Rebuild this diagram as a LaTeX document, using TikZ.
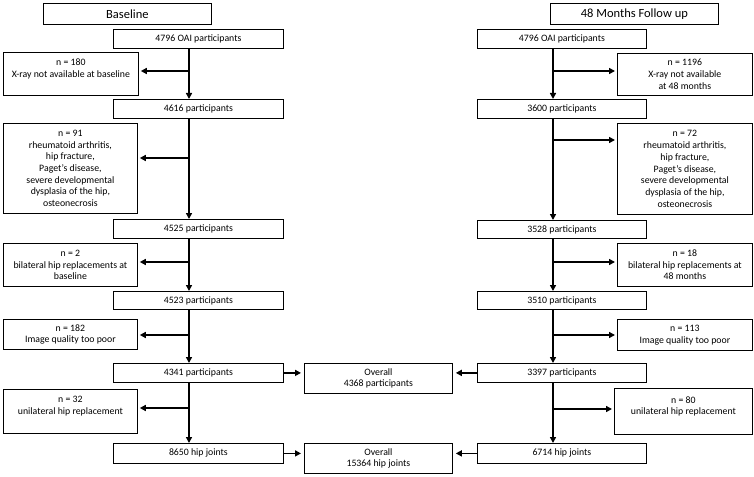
\documentclass[tikz,border=0pt]{standalone}
\usepackage{fontspec}
\setmainfont{Carlito}
\usetikzlibrary{arrows.meta}
\begin{document}
\begin{tikzpicture}[x=1pt,y=-1pt,
  box/.style={draw=black, line width=0.8pt, inner sep=0pt, anchor=north west, align=center,
    font=\fontsize{9.8}{11.7}\selectfont},
  head/.style={box, font=\fontsize{12.5}{15}\selectfont},
  arr/.style={line width=1.6pt, -{Triangle[length=6pt,width=6pt]}},
  gap/.style={shorten >=2pt}]
\useasboundingbox (0,0) rectangle (754,476);
% headers
\node[head, minimum width=168pt, minimum height=21pt] (hL) at (43,3) {Baseline};
\node[head, minimum width=168pt, minimum height=21pt] (hR) at (550,3) {48 Months Follow up};
% left column
\node[box, minimum width=170pt, minimum height=19pt] (L0) at (113,29) {4796 OAI participants};
\node[box, minimum width=135pt, minimum height=43pt] (nL1) at (3,52) {n = 180\\X-ray not available at baseline\\~};
\node[box, minimum width=170pt, minimum height=19pt] (L1) at (113,99) {4616 participants};
\node[box, minimum width=134pt, minimum height=90pt] (nL2) at (3,123) {n = 91\\rheumatoid arthritis,\\hip fracture,\\Paget’s disease,\\severe developmental\\dysplasia of the hip,\\osteonecrosis};
\node[box, minimum width=170pt, minimum height=19pt] (L2) at (113,219) {4525 participants};
\node[box, minimum width=134pt, minimum height=43pt] (nL3) at (3,243) {n = 2\\bilateral hip replacements at\\baseline};
\node[box, minimum width=170pt, minimum height=18pt] (L3) at (113,291) {4523 participants};
\node[box, minimum width=134pt, minimum height=30pt] (nL4) at (3,319) {n = 182\\Image quality too poor};
\node[box, minimum width=170pt, minimum height=19pt] (L4) at (113,363) {4341 participants};
\node[box, minimum width=134pt, minimum height=44pt] (nL5) at (3,389) {n = 32\\unilateral hip replacement\\~};
\node[box, minimum width=170pt, minimum height=20pt] (L5) at (113,443) {8650 hip joints};
% right column
\node[box, minimum width=169pt, minimum height=19pt] (R0) at (477,29) {4796 OAI participants};
\node[box, minimum width=135pt, minimum height=42pt] (nR1) at (617,53) {n = 1196\\X-ray not available\\at 48 months};
\node[box, minimum width=169pt, minimum height=19pt] (R1) at (477,99) {3600 participants};
\node[box, minimum width=135pt, minimum height=91pt] (nR2) at (617,123) {n = 72\\rheumatoid arthritis,\\hip fracture,\\Paget’s disease,\\severe developmental\\dysplasia of the hip,\\osteonecrosis};
\node[box, minimum width=169pt, minimum height=18pt] (R2) at (477,220) {3528 participants};
\node[box, minimum width=135pt, minimum height=43pt] (nR3) at (617,243) {n = 18\\bilateral hip replacements at\\48 months};
\node[box, minimum width=169pt, minimum height=18pt] (R3) at (477,291) {3510 participants};
\node[box, minimum width=135pt, minimum height=31pt] (nR4) at (617,319) {n = 113\\Image quality too poor};
\node[box, minimum width=169pt, minimum height=19pt] (R4) at (477,363) {3397 participants};
\node[box, minimum width=138pt, minimum height=46pt] (nR5) at (614,388) {n = 80\\unilateral hip replacement\\~};
\node[box, minimum width=169pt, minimum height=20pt] (R5) at (477,443) {6714 hip joints};
% middle
\node[box, minimum width=148pt, minimum height=30pt] (O1) at (304,363) {Overall\\4368 participants};
\node[box, minimum width=148pt, minimum height=30pt] (O2) at (304,443) {Overall\\15364 hip joints};
% trunks
\coordinate (tL) at (189,0);
\coordinate (tR) at (553,0);
\draw[arr] (L0.south -| tL) -- (L1.north -| tL);
\draw[arr] (L1.south -| tL) -- (L2.north -| tL);
\draw[arr] (L2.south -| tL) -- (L3.north -| tL);
\draw[arr] (L3.south -| tL) -- (L4.north -| tL);
\draw[arr] (L4.south -| tL) -- (L5.north -| tL);
\draw[arr] (R0.south -| tR) -- (R1.north -| tR);
\draw[arr] (R1.south -| tR) -- (R2.north -| tR);
\draw[arr] (R2.south -| tR) -- (R3.north -| tR);
\draw[arr] (R3.south -| tR) -- (R4.north -| tR);
\draw[arr] (R4.south -| tR) -- (R5.north -| tR);
% branches
\coordinate (bL1) at (189,71);
\coordinate (bL2) at (189,158);
\coordinate (bL3) at (189,262);
\coordinate (bL4) at (189,335);
\coordinate (bL5) at (189,408);
\coordinate (bR1) at (553,71);
\coordinate (bR2) at (553,140);
\coordinate (bR3) at (553,262);
\coordinate (bR4) at (553,335);
\coordinate (bR5) at (553,409);
\draw[arr,gap] (bL1) -- (bL1 -| nL1.east);
\draw[arr,gap] (bL2) -- (bL2 -| nL2.east);
\draw[arr,gap] (bL3) -- (bL3 -| nL3.east);
\draw[arr,gap] (bL4) -- (bL4 -| nL4.east);
\draw[arr,gap] (bL5) -- (bL5 -| nL5.east);
\draw[arr,gap] (bR1) -- (bR1 -| nR1.west);
\draw[arr,gap] (bR2) -- (bR2 -| nR2.west);
\draw[arr,gap] (bR3) -- (bR3 -| nR3.west);
\draw[arr,gap] (bR4) -- (bR4 -| nR4.west);
\draw[arr,gap] (bR5) -- (bR5 -| nR5.west);
% to overall
\draw[arr,shorten >=3pt] (L4.east) -- (L4.east -| O1.west);
\draw[arr,shorten >=3pt] (R4.west) -- (R4.west -| O1.east);
\draw[arr,shorten >=3pt] (L5.east) -- (L5.east -| O2.west);
\draw[arr,shorten >=3pt] (R5.west) -- (R5.west -| O2.east);
\end{tikzpicture}
\end{document}
